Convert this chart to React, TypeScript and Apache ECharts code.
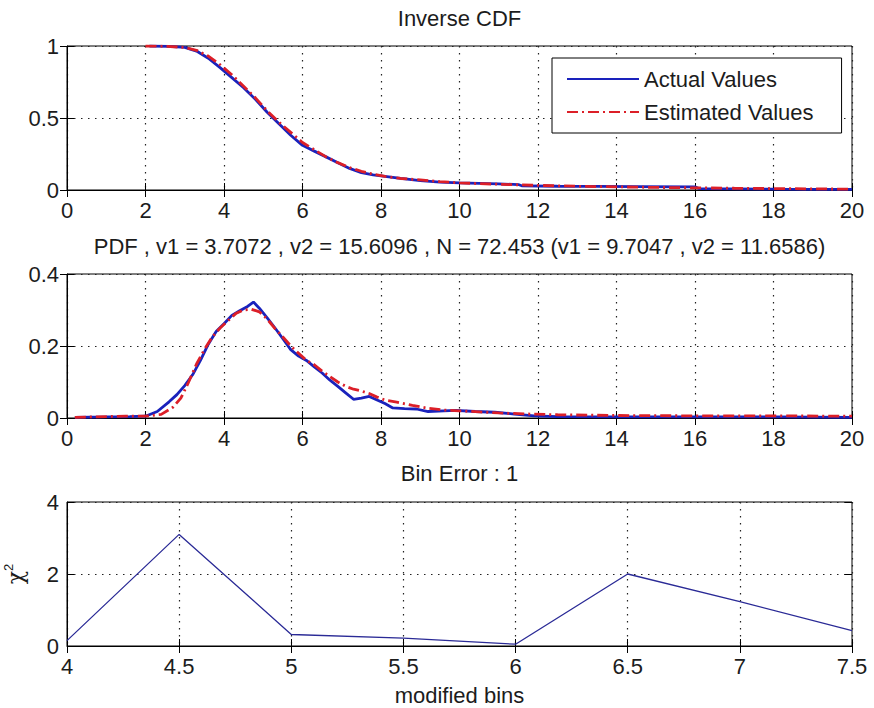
import React, { useEffect, useRef } from "react";
import * as echarts from "echarts";

// Survival curve (1 - CDF): empirical vs fitted
const cdfActual: [number, number][] = [
  [2.1, 1.0], [2.6, 0.998], [3.0, 0.99], [3.3, 0.965], [3.6, 0.915], [3.9, 0.85],
  [4.2, 0.78], [4.5, 0.71], [4.8, 0.63], [5.1, 0.54], [5.4, 0.46], [5.7, 0.38],
  [6.0, 0.31], [6.3, 0.27], [6.6, 0.23], [6.9, 0.19], [7.2, 0.15], [7.5, 0.12],
  [7.8, 0.105], [8.1, 0.095], [8.5, 0.08], [9.0, 0.065], [9.5, 0.055], [10.0, 0.05],
  [10.5, 0.046], [11.0, 0.042], [11.5, 0.038], [11.6, 0.028], [12.5, 0.026],
  [13.5, 0.025], [14.5, 0.024], [16.0, 0.022], [16.1, 0.01], [17.0, 0.008],
  [18.0, 0.006], [19.0, 0.005], [20.0, 0.004],
];
const cdfEstimated: [number, number][] = [
  [2.0, 1.0], [2.5, 0.998], [3.0, 0.99], [3.3, 0.97], [3.6, 0.93], [3.9, 0.87],
  [4.2, 0.8], [4.5, 0.72], [4.8, 0.64], [5.1, 0.55], [5.4, 0.47], [5.7, 0.4],
  [6.0, 0.33], [6.3, 0.28], [6.6, 0.23], [6.9, 0.19], [7.2, 0.155], [7.5, 0.13],
  [7.8, 0.11], [8.1, 0.095], [8.5, 0.08], [9.0, 0.07], [9.5, 0.058], [10.0, 0.05],
  [10.5, 0.044], [11.0, 0.04], [12.0, 0.032], [13.0, 0.026], [14.0, 0.022],
  [15.0, 0.018], [16.0, 0.015], [17.0, 0.012], [18.0, 0.01], [19.0, 0.008], [20.0, 0.006],
];

// Probability density: histogram estimate vs fitted
const pdfActual: [number, number][] = [
  [0.2, 0.002], [1.0, 0.003], [1.6, 0.004], [2.0, 0.005], [2.3, 0.018], [2.6, 0.045],
  [2.8, 0.065], [3.0, 0.09], [3.2, 0.12], [3.4, 0.16], [3.6, 0.205], [3.8, 0.24],
  [4.0, 0.262], [4.2, 0.285], [4.4, 0.298], [4.6, 0.31], [4.75, 0.322], [4.9, 0.305],
  [5.1, 0.278], [5.3, 0.25], [5.5, 0.22], [5.7, 0.19], [5.9, 0.172], [6.1, 0.16],
  [6.3, 0.142], [6.5, 0.125], [6.7, 0.105], [6.9, 0.088], [7.1, 0.07], [7.3, 0.052],
  [7.5, 0.055], [7.7, 0.06], [7.9, 0.05], [8.1, 0.04], [8.3, 0.028], [8.6, 0.026],
  [8.9, 0.025], [9.2, 0.018], [9.6, 0.02], [9.9, 0.021], [10.4, 0.018], [10.9, 0.016],
  [11.4, 0.011], [11.9, 0.006], [12.5, 0.004], [14.0, 0.003], [16.0, 0.003],
  [18.0, 0.003], [20.0, 0.002],
];
const pdfEstimated: [number, number][] = [
  [0.2, 0.002], [1.0, 0.004], [1.5, 0.005], [2.0, 0.005], [2.4, 0.01], [2.7, 0.03],
  [2.9, 0.055], [3.1, 0.1], [3.3, 0.15], [3.5, 0.19], [3.7, 0.225], [3.9, 0.25],
  [4.1, 0.27], [4.3, 0.29], [4.5, 0.3], [4.7, 0.302], [4.9, 0.295], [5.1, 0.275],
  [5.3, 0.248], [5.5, 0.225], [5.7, 0.2], [5.9, 0.18], [6.1, 0.16], [6.3, 0.148],
  [6.5, 0.13], [6.7, 0.115], [6.9, 0.1], [7.1, 0.088], [7.3, 0.08], [7.5, 0.075],
  [7.7, 0.068], [7.9, 0.058], [8.1, 0.05], [8.4, 0.044], [8.8, 0.035], [9.2, 0.027],
  [9.6, 0.022], [10.0, 0.02], [10.5, 0.017], [11.0, 0.014], [11.8, 0.011],
  [12.5, 0.009], [14.0, 0.007], [16.0, 0.006], [18.0, 0.006], [20.0, 0.005],
];

// Chi-square error per modified bin
const binCenters = [4, 4.5, 5, 5.5, 6, 6.5, 7, 7.5];
const binChi2 = [0.15, 3.1, 0.32, 0.22, 0.05, 2.0, 1.23, 0.43];

const titles = [
  "Inverse CDF",
  "PDF , v1 = 3.7072 , v2 = 15.6096 , N = 72.453 (v1 = 9.7047 , v2 = 11.6586)",
  "Bin Error : 1",
];
const legendNames = ["Actual Values", "Estimated Values"];

const FONT = '"Liberation Sans", Arial, Helvetica, sans-serif';
const TEXT = "#1c1c1c";
const FS = 22;
const BLUE = "#1a22bc";
const RED = "#dc1f28";
const DASH_DOT = [11, 4, 2, 4];

const GRID_LEFT = 67;
const GRID_RIGHT = 22;
const GRID_H = 144;
const GRID_TOPS = [46, 274, 502];
const TITLE_Y = [18, 246, 473];

const gridLine = { color: "#222", type: [1.5, 5.5], width: 1.2 };
const label = { color: TEXT, fontSize: FS, fontFamily: FONT };

function mainX(gridIndex: number, min: number, max: number, interval: number, extra: any = {}) {
  return {
    type: "value",
    gridIndex,
    min,
    max,
    interval,
    position: "bottom",
    axisLine: { show: true, onZero: false, lineStyle: { color: "#000", width: 1 } },
    axisTick: { show: true, inside: true, length: 7, lineStyle: { color: "#000" } },
    axisLabel: { ...label, margin: 9, showMinLabel: true, showMaxLabel: true },
    splitLine: { show: true, lineStyle: gridLine },
    ...extra,
  };
}
function topX(gridIndex: number, min: number, max: number, interval: number) {
  return {
    type: "value",
    gridIndex,
    min,
    max,
    interval,
    position: "top",
    axisLine: { show: false },
    axisTick: { show: true, inside: true, length: 7, lineStyle: { color: "#000" } },
    axisLabel: { show: false },
    splitLine: { show: false },
  };
}
function mainY(gridIndex: number, min: number, max: number, interval: number, extra: any = {}) {
  return {
    type: "value",
    gridIndex,
    min,
    max,
    interval,
    position: "left",
    axisLine: { show: true, onZero: false, lineStyle: { color: "#000", width: 1 } },
    axisTick: { show: true, inside: true, length: 7, lineStyle: { color: "#000" } },
    axisLabel: { ...label, margin: 8, showMinLabel: true, showMaxLabel: true },
    splitLine: { show: true, lineStyle: gridLine },
    ...extra,
  };
}
function rightY(gridIndex: number, min: number, max: number, interval: number) {
  return {
    type: "value",
    gridIndex,
    min,
    max,
    interval,
    position: "right",
    axisLine: { show: false },
    axisTick: { show: true, inside: true, length: 7, lineStyle: { color: "#000" } },
    axisLabel: { show: false },
    splitLine: { show: false },
  };
}

export default function App() {
  const ref = useRef<HTMLDivElement>(null);

  useEffect(() => {
    if (!ref.current) return;
    const chart = echarts.init(ref.current, null, { renderer: "svg" });

    const option: any = {
      animation: false,
      backgroundColor: "#fff",
      grid: GRID_TOPS.map((top) => ({
        left: GRID_LEFT,
        right: GRID_RIGHT,
        top,
        height: GRID_H,
        containLabel: false,
        outerBoundsMode: "none",
        show: true,
        borderColor: "#000",
        borderWidth: 1,
        backgroundColor: "#fff",
      })),
      xAxis: [
        mainX(0, 0, 20, 2),
        topX(0, 0, 20, 2),
        mainX(1, 0, 20, 2),
        topX(1, 0, 20, 2),
        mainX(2, 4, 7.5, 0.5, {
          name: "modified bins",
          nameLocation: "middle",
          nameGap: 38,
          nameTextStyle: { ...label },
        }),
        topX(2, 4, 7.5, 0.5),
      ],
      yAxis: [
        mainY(0, 0, 1, 0.5),
        rightY(0, 0, 1, 0.5),
        mainY(1, 0, 0.4, 0.2),
        rightY(1, 0, 0.4, 0.2),
        mainY(2, 0, 4, 2, {
          name: "{c|χ}{s|2}",
          nameLocation: "middle",
          nameRotate: 90,
          nameGap: 41,
          nameTextStyle: {
            rich: {
              c: { fontSize: 22, fontFamily: '"DejaVu Serif", serif', color: TEXT, lineHeight: 24, verticalAlign: "bottom" },
              s: { fontSize: 13, fontFamily: FONT, color: TEXT, lineHeight: 13, verticalAlign: "top" },
            },
          },
        }),
        rightY(2, 0, 4, 2),
      ],
      legend: {
        data: legendNames,
        orient: "vertical",
        left: 552,
        top: 58,
        itemWidth: 72,
        itemHeight: 14,
        itemGap: 11,
        padding: [10, 28, 10, 14],
        borderColor: "#000",
        borderWidth: 1,
        backgroundColor: "#fff",
        textStyle: { ...label },
        itemStyle: { color: "rgba(0,0,0,0)", borderWidth: 0, opacity: 0 },
        selectedMode: false,
      },
      graphic: titles.map((t, i) => ({
        type: "text",
        x: GRID_LEFT + (874 - GRID_LEFT - GRID_RIGHT) / 2,
        y: TITLE_Y[i],
        style: {
          text: t,
          fill: TEXT,
          font: `${FS}px ${FONT}`,
          textAlign: "center",
          textVerticalAlign: "middle",
          align: "center",
          verticalAlign: "middle",
        },
      })),
      series: [
        {
          name: legendNames[0],
          type: "line",
          xAxisIndex: 0,
          yAxisIndex: 0,
          data: cdfActual,
          showSymbol: false,
          symbol: "none",
          lineStyle: { color: BLUE, width: 2.8 },
          itemStyle: { color: BLUE },
          z: 3,
        },
        {
          name: legendNames[1],
          type: "line",
          xAxisIndex: 0,
          yAxisIndex: 0,
          data: cdfEstimated,
          showSymbol: false,
          symbol: "none",
          lineStyle: { color: RED, width: 2.8, type: DASH_DOT },
          itemStyle: { color: RED },
          z: 4,
        },
        {
          name: legendNames[0],
          type: "line",
          xAxisIndex: 2,
          yAxisIndex: 2,
          data: pdfActual,
          showSymbol: false,
          symbol: "none",
          lineStyle: { color: BLUE, width: 2.8 },
          itemStyle: { color: BLUE },
          z: 3,
        },
        {
          name: legendNames[1],
          type: "line",
          xAxisIndex: 2,
          yAxisIndex: 2,
          data: pdfEstimated,
          showSymbol: false,
          symbol: "none",
          lineStyle: { color: RED, width: 2.8, type: DASH_DOT },
          itemStyle: { color: RED },
          z: 4,
        },
        {
          name: "chi2",
          type: "line",
          xAxisIndex: 4,
          yAxisIndex: 4,
          data: binCenters.map((x, i) => [x, binChi2[i]]),
          showSymbol: false,
          symbol: "none",
          lineStyle: { color: "#2a2a96", width: 1.3 },
          itemStyle: { color: "#2a2a96" },
        },
      ],
    };

    chart.setOption(option);
    return () => chart.dispose();
  }, []);

  return (
    <div
      ref={ref}
      style={{ position: "fixed", left: 0, top: 0, width: 874, height: 708, background: "#fff" }}
    />
  );
}
